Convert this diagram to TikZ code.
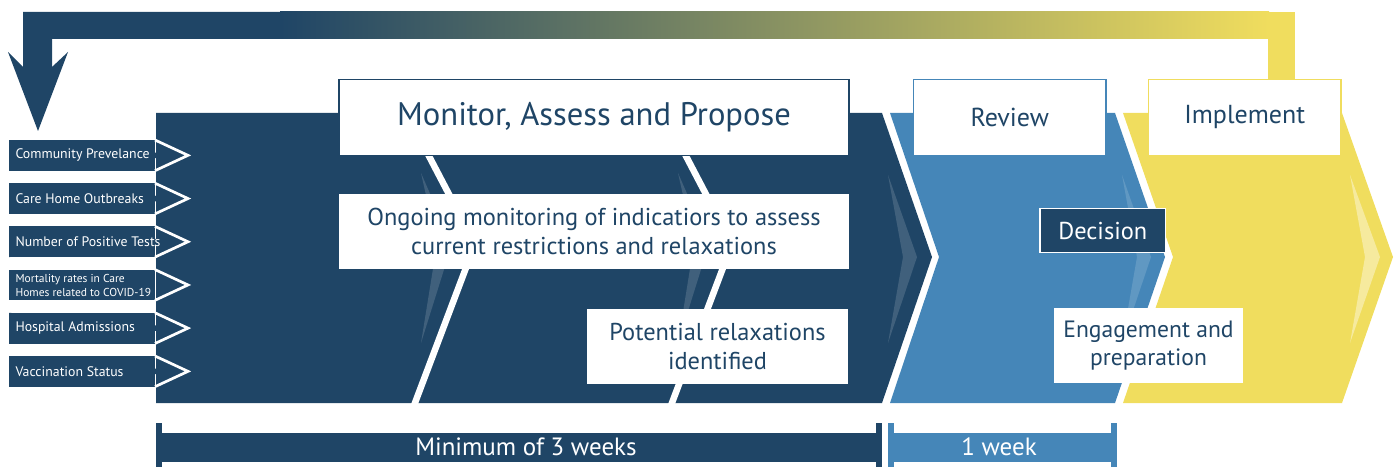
\documentclass[tikz,border=0pt]{standalone}
\usepackage{fontspec}
\setmainfont{PT Sans}
\definecolor{navy}{HTML}{1F4566}
\definecolor{midblue}{HTML}{4586B8}
\definecolor{gold}{HTML}{F0DD5E}
\tikzset{
  stagebox/.style={fill=white, inner sep=0pt, align=center, text=navy},
  bigtext/.style={font=\fontsize{32.6}{38}\selectfont},
  midtext/.style={font=\fontsize{24.4}{28.5}\selectfont},
  headtext/.style={font=\fontsize{26}{30}\selectfont},
  smalltext/.style={font=\fontsize{13.8}{15}\selectfont, text=white},
  streak/.style={fill=white, opacity=0.15},
  bartext/.style={font=\fontsize{25}{28}\selectfont, text=white}
}
\begin{document}
\begin{tikzpicture}[x=1pt,y=-1pt]
\useasboundingbox (0,0) rectangle (1399,468);
% feedback arrow
\fill[navy] (23,12) -- (281,12) -- (281,39) -- (52,39) -- (52,67) -- (68,52)
  -- (38,131) -- (8,52) -- (23,67) -- cycle;
\shade[left color=navy, right color=gold] (280,12) rectangle (1269,39);
\fill[gold] (1268,12) rectangle (1295,80);
% stages
\fill[navy] (156,113) -- (882,113) -- (932,257) -- (882,403) -- (156,403) -- cycle;
\fill[midblue] (890,113) -- (1115,113) -- (1165,257) -- (1115,403) -- (890,403) -- (939,257) -- cycle;
\fill[gold] (1123,113) -- (1342,113) -- (1393,257) -- (1342,403) -- (1123,403) -- (1173,257) -- cycle;
\fill[streak] (421,173) -- (452,244) -- (421,343) -- (437,244) -- cycle;
\fill[streak] (678,173) -- (709,244) -- (678,343) -- (694,244) -- cycle;
\fill[streak] (888,175) -- (917,257) -- (888,343) -- (903,257) -- cycle;
\fill[streak] (1122,175) -- (1151,257) -- (1122,343) -- (1137,257) -- cycle;
\fill[white, opacity=0.4] (1350,175) -- (1380,257) -- (1350,343) -- (1365,257) -- cycle;
\draw[white, line width=6.5pt] (425.8,150) -- (475,244) -- (413.8,406);
\draw[white, line width=6.5pt] (682.8,150) -- (732,244) -- (670.8,406);
% indicators
\foreach \i/\txt in {0/{Community Prevelance}, 1/{Care Home Outbreaks},
    2/{Number of Positive Tests}, 4/{Hospital Admissions}, 5/{Vaccination Status}}{
  \pgfmathsetmacro{\t}{140+43.2*\i}
  \fill[navy] (9,\t) -- (188,\t+15.35) -- (9,\t+30.7) -- cycle;
  \fill[navy] (9,\t) rectangle (155,\t+30.7);
  \draw[white, line width=2.7pt] (155,\t) -- (188,\t+15.35) -- (155,\t+30.7);
  \node[smalltext, anchor=west] (ind\i) at (12,\t+15.35) {\txt};
}
\fill[navy] (9,269.6) rectangle (155,300.3);
\draw[white, line width=2.7pt] (155,269.6) -- (188,284.95) -- (155,300.3);
\node[smalltext, anchor=west, align=left, font=\fontsize{11.5}{13.3}\selectfont] (ind3) at (12,285.5)
  {Mortality rates in Care\\Homes related to COVID-19};
% text boxes
\node[stagebox, bigtext, draw=navy, line width=1.2pt, minimum width=510pt, minimum height=76pt]
  (monitor) at (594,117.3) {Monitor, Assess and Propose};
\node[stagebox, midtext, minimum width=510pt, minimum height=74.7pt]
  (ongoing) at (594,231.4) {Ongoing monitoring of indicatiors to assess\\current restrictions and relaxations};
\node[stagebox, midtext, minimum width=261.6pt, minimum height=74.7pt]
  (potential) at (717.5,346.7) {Potential relaxations\\identified};
\node[stagebox, headtext, draw=midblue, line width=1.5pt, minimum width=192.7pt, minimum height=76pt]
  (review) at (1009.7,117.3) {Review};
\node[stagebox, headtext, draw=gold, line width=1.5pt, minimum width=192.7pt, minimum height=76pt]
  (implement) at (1244.7,117.3) {Implement};
\node[stagebox, midtext, fill=navy, text=white, draw=white, line width=1.5pt, minimum width=125.7pt, minimum height=44pt]
  (decision) at (1102.8,230.7) {Decision};
\node[stagebox, midtext, font=\fontsize{23.6}{28.5}\selectfont, minimum width=188.4pt, minimum height=75pt]
  (engage) at (1148.5,345.8) {Engagement and\\preparation};
% durations
\fill[navy] (156,432.7) rectangle (882,461.7);
\fill[navy] (156,423.3) rectangle (162,467.3);
\fill[navy] (876,423.3) rectangle (882,467.3);
\fill[midblue] (888.3,432.7) rectangle (1116.7,461.7);
\fill[midblue] (888.3,423.3) rectangle (894,467.3);
\fill[midblue] (1111,423.3) rectangle (1116.7,467.3);
\node[bartext] (threeweeks) at (526,447) {Minimum of 3 weeks};
\node[bartext] (oneweek) at (999,447) {1 week};
\end{tikzpicture}
\end{document}
